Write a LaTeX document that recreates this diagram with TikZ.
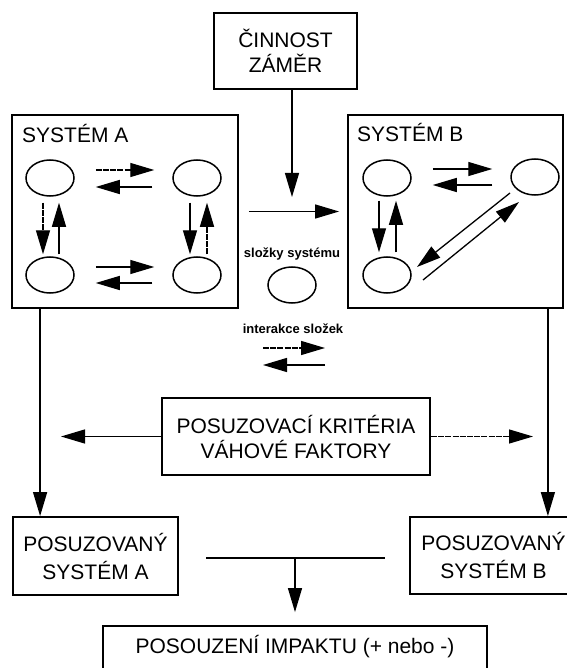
\documentclass[tikz,border=0pt]{standalone}
\usepackage{fontspec}
\setmainfont{Liberation Sans}
\usetikzlibrary{arrows.meta,shapes.geometric,calc}

\begin{document}
\begin{tikzpicture}[x=1pt,y=-1pt,
  box/.style={draw,line width=1.8pt,align=center,inner sep=0pt,
              font=\fontsize{21}{25}\selectfont},
  posbox/.style={box,font=\fontsize{21}{28}\selectfont},
  comp/.style={draw,ellipse,line width=1.5pt,minimum width=48pt,
               minimum height=36pt,inner sep=0pt},
  arr/.style={line width=1.3pt,-{Triangle[length=24pt,width=14pt]}},
  link/.style={line width=1.3pt},
  faint/.style={dash pattern=on 6pt off 1.2pt},
  small/.style={font=\fontsize{13}{15}\selectfont\bfseries,inner sep=0pt},
  boxtitle/.style={font=\fontsize{21}{25}\selectfont,inner sep=0pt,anchor=base west}]
\useasboundingbox (0,0) rectangle (566,668);

% --- main boxes ---
\node[box,minimum width=143pt,minimum height=76pt] (cin) at (285.5,51) {ČINNOST\\ZÁMĚR};
\node[draw,line width=1.8pt,minimum width=226pt,minimum height=193pt] (sysA) at (125,211.5) {};
\node[draw,line width=1.8pt,minimum width=215pt,minimum height=193pt] (sysB) at (455.5,211.5) {};
\node[boxtitle] (titA) at (22,143) {SYSTÉM A};
\node[boxtitle] (titB) at (357,142) {SYSTÉM B};
\node[box,minimum width=268pt,minimum height=77pt] (crit) at (296,436.5) {POSUZOVACÍ KRITÉRIA\\VÁHOVÉ FAKTORY};
\node[posbox,minimum width=165pt,minimum height=78pt] (posA) at (95.5,556) {POSUZOVANÝ\\SYSTÉM A};
\node[posbox,minimum width=167pt,minimum height=77pt] (posB) at (493.5,555.5) {POSUZOVANÝ\\SYSTÉM B};
\node[box,minimum width=384pt,minimum height=46pt] (imp) at (295,649) {};
\node[font=\fontsize{21}{25}\selectfont,inner sep=0pt] (impT) at (295,647) {POSOUZENÍ IMPAKTU (+ nebo -)};

% --- components of system A ---
\node[comp] (a1) at (50,178) {};
\node[comp] (a2) at (197,178) {};
\node[comp] (a3) at (50,275) {};
\node[comp] (a4) at (197,275) {};

% --- components of system B ---
\node[comp] (b1) at (387,178) {};
\node[comp] (b2) at (535,177) {};
\node[comp] (b3) at (387,275) {};

% --- legend ---
\node[small] (lbl) at (292,254) {složky systému};
\node[comp] (leg) at (292,285) {};
\node[small] (inter) at (293,329) {interakce složek};
\coordinate (i1) at (263,348);
\coordinate (i2) at (325,348);
\coordinate (i3) at (325,365);
\coordinate (i4) at (263,365);
\draw[arr,faint] (i1) -- (i2);
\draw[arr] (i3) -- (i4);

% --- interactions inside system A ---
\draw[arr,faint,shorten <=21pt,shorten >=18pt] ([yshift=8pt]a1.east) -- ([yshift=8pt]a2.west);
\draw[arr,shorten <=20pt,shorten >=21pt] ([yshift=-9pt]a2.west) -- ([yshift=-9pt]a1.east);
\draw[arr,shorten <=21pt,shorten >=18pt] ([yshift=8pt]a3.east) -- ([yshift=8pt]a4.west);
\draw[arr,shorten <=20pt,shorten >=21pt] ([yshift=-8pt]a4.west) -- ([yshift=-8pt]a3.east);
\draw[arr,faint,shorten <=6pt,shorten >=2pt] ([xshift=-7pt]a1.south) -- ([xshift=-7pt]a3.north);
\draw[arr,shorten <=2pt,shorten >=6pt] ([xshift=9pt]a3.north) -- ([xshift=9pt]a1.south);
\draw[arr,shorten <=6pt,shorten >=2pt] ([xshift=-7pt]a2.south) -- ([xshift=-7pt]a4.north);
\draw[arr,faint,shorten <=2pt,shorten >=6pt] ([xshift=10pt]a4.north) -- ([xshift=10pt]a2.south);

% --- interactions inside system B ---
\draw[arr,shorten <=21pt,shorten >=18pt] ([yshift=9pt]b1.east) -- ([yshift=8pt]b2.west);
\draw[arr,shorten <=18pt,shorten >=21pt] ([yshift=-8pt]b2.west) -- ([yshift=-7pt]b1.east);
\draw[arr,shorten <=4pt,shorten >=4pt] ([xshift=-8pt]b1.south) -- ([xshift=-8pt]b3.north);
\draw[arr,shorten <=4pt,shorten >=4pt] ([xshift=9pt]b3.north) -- ([xshift=9pt]b1.south);
\draw[arr] ($(b2)+(-25,16)$) -- ($(b3)+(30,-8)$);
\draw[arr] ($(b3)+(36,5)$) -- ($(b2)+(-16,25)$);

% --- flow between the systems ---
\coordinate (cinT) at (292,197);
\draw[arr] (cinT |- cin.south) -- (cinT);
\draw[arr,shorten <=10pt,shorten >=8pt] (sysA) -- (sysB);

% --- assessment ---
\coordinate (lA) at ([xshift=29pt]sysA.south west);
\coordinate (rB) at ([xshift=-16pt]sysB.south east);
\draw[arr] (lA) -- (lA |- posA.north);
\draw[arr] (rB) -- (rB |- posB.north);
\coordinate (cl) at (61,436.5);
\coordinate (cr) at (533,436.5);
\draw[arr] (crit.west) -- (cl);
\draw[arr,faint] (crit.east) -- (cr);

% --- combination into the final assessment ---
\coordinate (mL) at (206,558);
\coordinate (mR) at (385,558);
\coordinate (mC) at (295,558);
\draw[link] (mL) -- (mR);
\draw[arr,shorten >=13pt] (mC) -- (imp.north);
\end{tikzpicture}
\end{document}
